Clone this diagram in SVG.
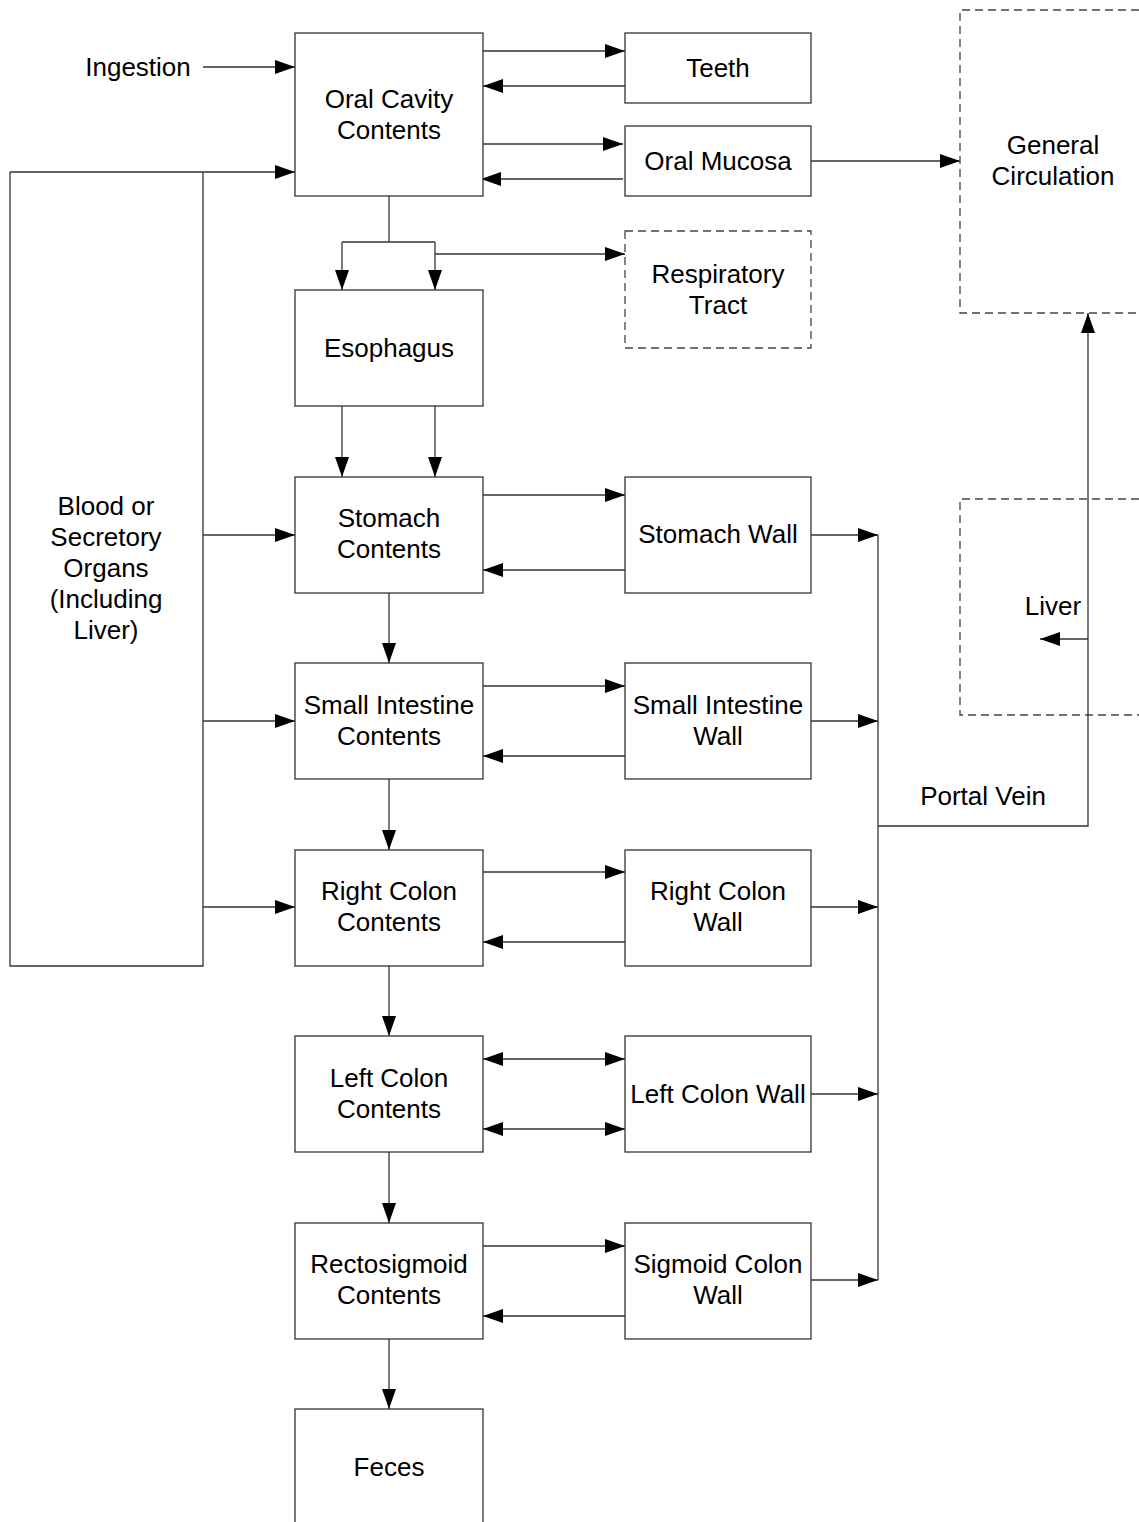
<svg xmlns="http://www.w3.org/2000/svg" width="1139" height="1522" viewBox="0 0 1139 1522">
<style>
.box{fill:#fff;stroke:#333;stroke-width:1.3}
.dash{fill:none;stroke:#444;stroke-width:1.3;stroke-dasharray:8,5}
.c{fill:none;stroke:#333;stroke-width:1.3}
text{font-family:"Liberation Sans",Arial,sans-serif;font-size:26px;fill:#000;text-anchor:middle}
</style>
<defs>
<marker id="a" markerUnits="userSpaceOnUse" markerWidth="22" markerHeight="14" refX="20" refY="7" orient="auto"><path d="M0,0 L20,7 L0,14 Z" fill="#000"/></marker>
<marker id="s" markerUnits="userSpaceOnUse" markerWidth="22" markerHeight="14" refX="0" refY="7" orient="auto"><path d="M20,0 L0,7 L20,14 Z" fill="#000"/></marker>
</defs>
<rect width="1139" height="1522" fill="#fff"/>
<g id="connectors">
<path class="c" d="M203,67 H295" marker-end="url(#a)"/>
<path class="c" d="M10,172 H295" marker-end="url(#a)"/>
<path class="c" d="M203,535 H295" marker-end="url(#a)"/>
<path class="c" d="M203,721 H295" marker-end="url(#a)"/>
<path class="c" d="M203,907 H295" marker-end="url(#a)"/>
<path class="c" d="M483,51 H625" marker-end="url(#a)"/>
<path class="c" d="M625,86 H483" marker-end="url(#a)"/>
<path class="c" d="M481,144 H623" marker-end="url(#a)"/>
<path class="c" d="M623,179 H481" marker-end="url(#a)"/>
<path class="c" d="M811,161 H960" marker-end="url(#a)"/>
<path class="c" d="M389,196 V242"/>
<path class="c" d="M342,242 H435"/>
<path class="c" d="M342,242 V290" marker-end="url(#a)"/>
<path class="c" d="M435,242 V290" marker-end="url(#a)"/>
<path class="c" d="M435,254 H625" marker-end="url(#a)"/>
<path class="c" d="M342,406 V477" marker-end="url(#a)"/>
<path class="c" d="M435,406 V477" marker-end="url(#a)"/>
<path class="c" d="M483,495 H625" marker-end="url(#a)"/>
<path class="c" d="M625,570 H483" marker-end="url(#a)"/>
<path class="c" d="M389,593 V663" marker-end="url(#a)"/>
<path class="c" d="M483,686 H625" marker-end="url(#a)"/>
<path class="c" d="M625,756 H483" marker-end="url(#a)"/>
<path class="c" d="M389,779 V850" marker-end="url(#a)"/>
<path class="c" d="M483,872 H625" marker-end="url(#a)"/>
<path class="c" d="M625,942 H483" marker-end="url(#a)"/>
<path class="c" d="M389,966 V1036" marker-end="url(#a)"/>
<path class="c" d="M483,1059 H625" marker-start="url(#s)" marker-end="url(#a)"/>
<path class="c" d="M483,1129 H625" marker-start="url(#s)" marker-end="url(#a)"/>
<path class="c" d="M389,1152 V1223" marker-end="url(#a)"/>
<path class="c" d="M483,1246 H625" marker-end="url(#a)"/>
<path class="c" d="M625,1316 H483" marker-end="url(#a)"/>
<path class="c" d="M389,1339 V1409" marker-end="url(#a)"/>
<path class="c" d="M811,535 H878" marker-end="url(#a)"/>
<path class="c" d="M811,721 H878" marker-end="url(#a)"/>
<path class="c" d="M811,907 H878" marker-end="url(#a)"/>
<path class="c" d="M811,1094 H878" marker-end="url(#a)"/>
<path class="c" d="M811,1280 H878" marker-end="url(#a)"/>
<path class="c" d="M878,535 V1280"/>
<path class="c" d="M878,826 H1088 V313" marker-end="url(#a)"/>
<path class="c" d="M1088,639 H1040" marker-end="url(#a)"/>
</g>
<g id="ingestion"><text x="138" y="76">Ingestion</text></g>
<g id="blood"><path class="c" d="M10,172 V966 H203 V172"/><text x="106" y="515">Blood or</text><text x="106" y="546">Secretory</text><text x="106" y="577">Organs</text><text x="106" y="608">(Including</text><text x="106" y="639">Liver)</text></g>
<g id="oral"><rect class="box" x="295" y="33" width="188" height="163"/><text x="389" y="108">Oral Cavity</text><text x="389" y="139">Contents</text></g>
<g id="teeth"><rect class="box" x="625" y="33" width="186" height="70"/><text x="718" y="77">Teeth</text></g>
<g id="mucosa"><rect class="box" x="625" y="126" width="186" height="70"/><text x="718" y="170">Oral Mucosa</text></g>
<g id="resp"><rect class="dash" x="625" y="231" width="186" height="117"/><text x="718" y="283">Respiratory</text><text x="718" y="314">Tract</text></g>
<g id="general"><path class="dash" d="M1139,10 H960 V313 H1139"/><text x="1053" y="154">General</text><text x="1053" y="185">Circulation</text></g>
<g id="liver"><path class="dash" d="M1139,499 H960 V715 H1139"/><text x="1053" y="615">Liver</text></g>
<g id="portal"><text x="983" y="805">Portal Vein</text></g>
<g id="esophagus"><rect class="box" x="295" y="290" width="188" height="116"/><text x="389" y="357">Esophagus</text></g>
<g id="stomach"><rect class="box" x="295" y="477" width="188" height="116"/><text x="389" y="527">Stomach</text><text x="389" y="558">Contents</text></g>
<g id="stomachwall"><rect class="box" x="625" y="477" width="186" height="116"/><text x="718" y="543">Stomach Wall</text></g>
<g id="small"><rect class="box" x="295" y="663" width="188" height="116"/><text x="389" y="714">Small Intestine</text><text x="389" y="745">Contents</text></g>
<g id="smallwall"><rect class="box" x="625" y="663" width="186" height="116"/><text x="718" y="714">Small Intestine</text><text x="718" y="745">Wall</text></g>
<g id="right"><rect class="box" x="295" y="850" width="188" height="116"/><text x="389" y="900">Right Colon</text><text x="389" y="931">Contents</text></g>
<g id="rightwall"><rect class="box" x="625" y="850" width="186" height="116"/><text x="718" y="900">Right Colon</text><text x="718" y="931">Wall</text></g>
<g id="left"><rect class="box" x="295" y="1036" width="188" height="116"/><text x="389" y="1087">Left Colon</text><text x="389" y="1118">Contents</text></g>
<g id="leftwall"><rect class="box" x="625" y="1036" width="186" height="116"/><text x="718" y="1103">Left Colon Wall</text></g>
<g id="recto"><rect class="box" x="295" y="1223" width="188" height="116"/><text x="389" y="1273">Rectosigmoid</text><text x="389" y="1304">Contents</text></g>
<g id="sigmoid"><rect class="box" x="625" y="1223" width="186" height="116"/><text x="718" y="1273">Sigmoid Colon</text><text x="718" y="1304">Wall</text></g>
<g id="feces"><rect class="box" x="295" y="1409" width="188" height="130"/><text x="389" y="1476">Feces</text></g>
</svg>
